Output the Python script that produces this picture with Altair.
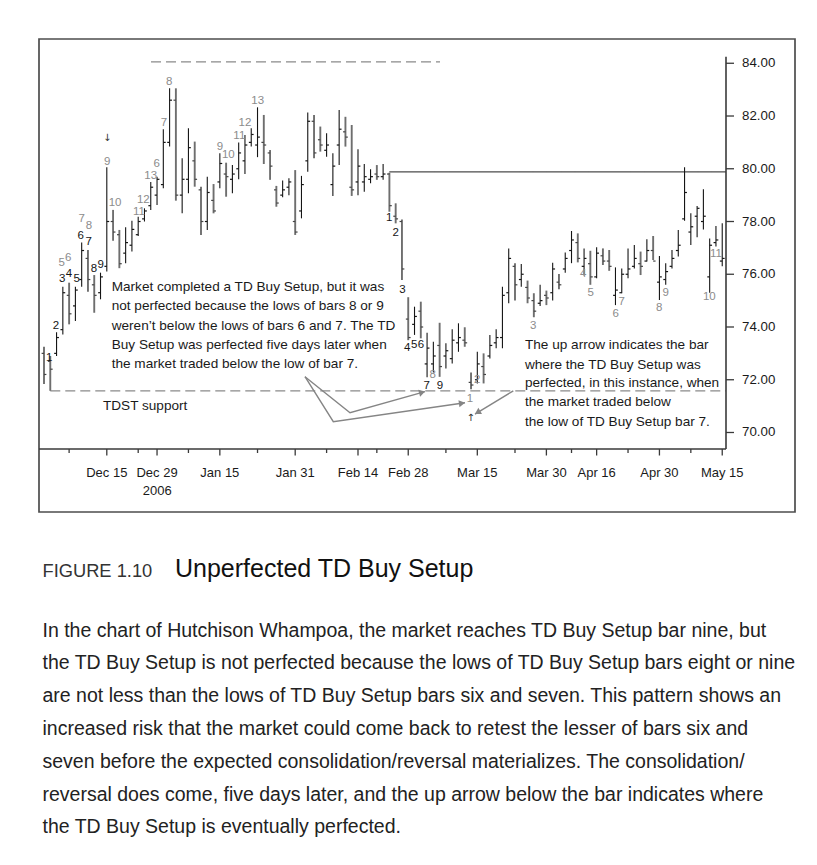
import altair as alt
import pandas as pd

# ---------------- data ----------------
highs = [73.25, 72.90, 73.80, 75.53, 75.68, 75.53, 77.20, 76.92, 75.97, 76.06,
         80.06, 78.44, 77.68, 77.78, 78.03, 78.18, 78.50, 79.50, 79.70, 81.50,
         83.05, 83.05, 80.40, 81.54, 81.03, 79.32, 79.70, 79.42, 80.59, 80.23,
         80.14, 81.00, 81.28, 81.54, 82.33, 82.04, 80.71, 79.35, 79.55, 79.64,
         79.95, 79.73, 82.13, 82.04, 81.60, 81.35, 80.59, 82.23, 81.97, 81.66,
         80.74, 80.18, 79.98, 80.14, 80.18, 79.85, 78.69, 78.08, 75.13, 74.77,
         74.96, 73.78, 73.44, 74.16, 73.38, 73.91, 74.14, 73.99, 72.27, 73.06,
         73.00, 73.70, 73.91, 75.53, 76.98, 76.42, 76.39, 75.76, 75.28, 75.60,
         75.38, 76.44, 76.01, 76.82, 77.64, 77.55, 76.98, 76.89, 77.02, 76.98,
         76.92, 76.26, 76.22, 76.98, 77.11, 76.86, 77.33, 77.45, 76.69, 76.42,
         76.92, 77.68, 80.06, 78.31, 78.59, 79.22, 77.36, 77.83, 77.93]
lows = [71.84, 71.58, 72.90, 73.72, 74.10, 74.23, 75.53, 75.34, 74.54, 75.05,
        76.10, 77.27, 76.23, 76.42, 76.86, 77.45, 78.00, 78.44, 78.63, 79.26,
        80.84, 78.79, 78.31, 79.07, 79.32, 77.49, 77.68, 78.31, 79.26, 78.94,
        79.07, 79.60, 79.80, 80.84, 80.44, 80.18, 79.58, 78.56, 78.92, 79.00,
        77.49, 78.12, 79.89, 80.40, 80.65, 80.46, 78.97, 80.14, 80.84, 78.97,
        79.00, 79.13, 79.45, 79.58, 79.58, 78.37, 77.93, 75.78, 73.50, 73.70,
        73.57, 72.09, 72.27, 72.11, 72.43, 72.62, 73.06, 73.25, 71.64, 71.86,
        71.86, 72.81, 73.19, 73.19, 74.90, 75.00, 75.53, 74.90, 74.37, 74.80,
        74.83, 75.00, 75.43, 76.06, 76.42, 76.45, 75.95, 75.60, 75.85, 76.35,
        76.13, 74.83, 75.28, 75.85, 76.22, 75.97, 76.48, 76.54, 75.02, 75.60,
        76.22, 76.67, 78.03, 77.11, 77.40, 77.70, 75.30, 77.05, 76.30]
opens = [73.0, 72.7, 73.0, 73.9, 75.2, 74.8, 75.8, 76.6, 75.6, 75.3,
         76.3, 78.0, 77.5, 76.8, 77.1, 77.5, 78.1, 78.6, 79.0, 79.4,
         81.0, 82.6, 79.0, 79.6, 80.3, 79.2, 78.0, 78.8, 79.5, 79.8,
         79.6, 80.0, 80.3, 81.0, 80.9, 81.0, 80.6, 79.2, 79.0, 79.3,
         78.0, 78.4, 80.3, 81.8, 81.1, 80.7, 79.4, 80.9, 81.4, 79.3,
         79.5, 79.5, 79.6, 79.8, 79.7, 79.8, 78.2, 78.0, 74.3, 74.1,
         74.6, 72.6, 72.6, 73.3, 72.9, 72.8, 73.4, 73.5, 71.9, 72.0,
         72.5, 72.9, 73.4, 73.6, 75.3, 76.3, 75.8, 75.5, 75.0, 74.9,
         75.2, 75.3, 75.7, 76.2, 76.9, 77.2, 76.3, 76.4, 75.9, 76.7,
         76.5, 75.2, 75.3, 76.0, 76.3, 76.4, 76.5, 76.9, 75.7, 75.8,
         76.3, 76.9, 78.1, 77.6, 78.2, 78.0, 75.9, 77.2, 76.5]
closes = [72.2, 72.4, 73.6, 75.3, 74.5, 75.4, 76.9, 75.8, 75.2, 75.9,
          78.0, 77.6, 76.4, 77.2, 77.7, 78.0, 78.4, 79.3, 79.6, 81.0,
          82.6, 79.0, 79.6, 80.8, 79.6, 78.0, 79.1, 78.4, 80.2, 79.7,
          79.8, 80.6, 80.9, 81.3, 81.2, 80.9, 80.1, 78.7, 79.2, 79.5,
          77.6, 79.4, 81.8, 80.6, 80.9, 80.9, 80.1, 81.5, 81.2, 79.2,
          80.1, 79.7, 79.7, 79.7, 79.8, 78.6, 78.1, 76.2, 73.6, 74.4,
          74.0, 73.2, 72.9, 72.5, 73.1, 73.5, 73.6, 73.4, 71.8, 72.6,
          72.2, 73.3, 73.6, 75.2, 76.6, 75.6, 76.0, 75.1, 74.6, 75.0,
          75.1, 76.2, 75.6, 76.6, 77.3, 76.6, 76.6, 75.9, 76.8, 76.5,
          76.3, 75.4, 76.0, 76.2, 76.6, 76.3, 76.9, 76.5, 75.9, 76.1,
          76.6, 77.1, 79.1, 77.8, 78.5, 78.2, 77.1, 77.3, 76.6]
bar_index = list(range(len(highs)))

# x-axis ticks (bar index) and labels
major_ticks = [10, 18, 28, 40, 50, 58, 69, 80, 88, 98, 108]
major_labels = ["Dec 15", "Dec 29", "Jan 15", "Jan 31", "Feb 14", "Feb 28",
                "Mar 15", "Mar 30", "Apr 16", "Apr 30", "May 15"]
minor_ticks = [4, 15, 23, 34, 45, 53, 64, 75, 84, 93, 103]
year_label_i = [18.04]
year_label_t = ["2006"]
price_ticks = [70, 72, 74, 76, 78, 80, 82, 84]
price_labels = ["70.00", "72.00", "74.00", "76.00", "78.00", "80.00", "82.00", "84.00"]

# TD count labels: bar position, price position, text, colour class
lab_i = [0.84, 1.91, 2.91, 3.98, 5.21, 5.84, 7.12, 7.96, 9.03,
         2.82, 3.87, 6.0, 7.17, 10.08, 11.31, 15.13, 15.81, 16.99, 17.95, 19.11, 19.95,
         28.03, 29.35, 31.1, 32.0, 34.03,
         54.98, 56.0, 57.06, 57.85, 58.96, 60.03, 60.94, 61.89, 63.06,
         67.83, 69.0, 77.91, 85.88, 87.05, 91.04, 91.99, 97.98, 99.0, 105.94, 107.0]
lab_p = [72.81, 74.04, 75.81, 76.0, 75.81, 77.46, 77.23, 76.19, 76.35,
         76.42, 76.61, 78.08, 77.83, 80.27, 78.69, 78.37, 78.82, 79.74, 80.17, 81.75, 83.30,
         80.84, 80.52, 81.25, 81.75, 82.58,
         78.12, 77.58, 75.40, 73.19, 73.32, 73.32, 71.76, 72.18, 71.76,
         71.26, 71.99, 74.04, 76.01, 75.28, 74.49, 74.96, 74.73, 75.28, 75.13, 76.77]
lab_t = ["1", "2", "3", "4", "5", "6", "7", "8", "9",
         "5", "6", "7", "8", "9", "10", "11", "12", "13", "6", "7", "8",
         "9", "10", "11", "12", "13",
         "1", "2", "3", "4", "5", "6", "7", "8", "9",
         "1", "2", "3", "4", "5", "6", "7", "8", "9", "10", "11"]
lab_c = ["k"] * 9 + ["g"] * 17 + ["k"] * 7 + ["g"] + ["k"] + ["g"] * 11

# small arrow markers
mark_i = [10.08, 67.95]
mark_p = [81.17, 70.55]
mark_t = ["↓", "↑"]

# horizontal reference lines
top_dash = {"i1": 17.04, "i2": 63.06, "p": 84.05}
resist = {"i1": 54.98, "i2": 108.6, "p": 79.88}
tdst = {"i1": 1.0, "i2": 108.6, "p": 71.58}

# annotation arrows (bar index, price)
arr_id = ["a", "a", "a", "b", "b", "b", "c", "c"]
arr_k = [0, 1, 2, 0, 1, 2, 0, 1]
arr_i = [41.56, 48.73, 60.67, 41.56, 46.07, 67.04, 74.73, 68.63]
arr_p = [72.115, 70.75, 71.547, 72.115, 70.41, 71.13, 71.58, 70.70]
head_i = [60.21, 66.56, 69.04]
head_p = [71.52, 71.11, 70.76]
head_ang = [344.4, 351.8, 148.7]

# annotation text
left_text = ["Market completed a TD Buy Setup, but it was",
             "not perfected because the lows of bars 8 or 9",
             "weren\u2019t below the lows of bars 6 and 7. The TD",
             "Buy Setup was perfected five days later when",
             "the market traded below the low of bar 7."]
left_i = 10.78
left_p = [75.38, 74.64, 73.90, 73.16, 72.43]
right_text = ["The up arrow indicates the bar",
              "where the TD Buy Setup was",
              "perfected, in this instance, when",
              "the market traded below",
              "the low of TD Buy Setup bar 7."]
right_i = 76.59
right_p = [73.15, 72.41, 71.72, 70.99, 70.23]
support_text = ["TDST support"]
support_i = [9.39]
support_p = [70.85]

fig_no = "FIGURE 1.10"
fig_title = "Unperfected TD Buy Setup"
body = ("In the chart of Hutchison Whampoa, the market reaches TD Buy Setup bar nine, but\n"
        "the TD Buy Setup is not perfected because the lows of TD Buy Setup bars eight or nine\n"
        "are not less than the lows of TD Buy Setup bars six and seven. This pattern shows an\n"
        "increased risk that the market could come back to retest the lesser of bars six and\n"
        "seven before the expected consolidation/reversal materializes. The consolidation/\n"
        "reversal does come, five days later, and the up arrow below the bar indicates where\n"
        "the TD Buy Setup is eventually perfected.")

# ---------------- styling ----------------
FONT = "Liberation Sans, Arial, sans-serif"
BLACK = "#151515"
GRAYBAR = "#6e6e6e"
GRAYTXT = "#8c8c8c"
AX = "#3a3a3a"
W, H = 687, 410

XS = alt.Scale(domain=[-0.796, 108.6], nice=False, zero=False)
YS = alt.Scale(domain=[69.374, 84.92], nice=False, zero=False)


def xq(f):
    return alt.X(f, scale=XS, axis=None, title=None)


def yq(f):
    return alt.Y(f, scale=YS, axis=None, title=None)


bars = pd.DataFrame({"i": bar_index, "h": highs, "l": lows, "o": opens, "c": closes})
down = "datum.c < datum.o"

bar_rules = alt.Chart(bars).mark_rule().encode(
    x=xq("i:Q"), y=yq("l:Q"), y2="h:Q",
    color=alt.condition(down, alt.value(GRAYBAR), alt.value(BLACK)),
    strokeWidth=alt.condition(down, alt.value(1.9), alt.value(1.1)),
)
open_ticks = alt.Chart(bars).transform_calculate(xl="datum.i - 0.38").mark_rule(strokeWidth=1.2).encode(
    x=xq("xl:Q"), x2="i:Q", y=yq("o:Q"),
    color=alt.condition(down, alt.value("#444"), alt.value(BLACK)),
)
close_ticks = alt.Chart(bars).transform_calculate(xr="datum.i + 0.38").mark_rule(strokeWidth=1.2).encode(
    x=xq("i:Q"), x2="xr:Q", y=yq("c:Q"),
    color=alt.condition(down, alt.value("#444"), alt.value(BLACK)),
)

one = pd.DataFrame({"z": [0]})

# ---- axes drawn through the scales ----
xaxis_line = alt.Chart(one).mark_rule(color=AX, strokeWidth=1.6).encode(
    x=alt.value(0), x2=alt.value(W), y=alt.value(H))
yaxis_line = alt.Chart(pd.DataFrame({"p": [84.25]})).mark_rule(color=AX, strokeWidth=1.6).encode(
    x=alt.value(W), y=yq("p:Q"), y2=alt.value(H))
xmajor = alt.Chart(pd.DataFrame({"i": major_ticks, "t": major_labels}))
xmajor_ticks = xmajor.mark_rule(color=AX, strokeWidth=1.3).encode(
    x=xq("i:Q"), y=alt.value(H), y2=alt.value(H + 6.5))
xmajor_labels = xmajor.mark_text(font=FONT, fontSize=13, color="#1a1a1a", baseline="alphabetic",
                                 align="center").encode(
    x=xq("i:Q"), y=alt.value(437.5), text="t:N")
xminor_ticks = alt.Chart(pd.DataFrame({"i": minor_ticks})).mark_rule(color=AX, strokeWidth=1.3).encode(
    x=xq("i:Q"), y=alt.value(H), y2=alt.value(H + 4))
year = alt.Chart(pd.DataFrame({"i": year_label_i, "t": year_label_t})).mark_text(
    font=FONT, fontSize=13, color="#1a1a1a", baseline="alphabetic", align="center").encode(
    x=xq("i:Q"), y=alt.value(455.5), text="t:N")
ydf = alt.Chart(pd.DataFrame({"p": price_ticks, "t": price_labels}))
y_ticks = ydf.mark_rule(color=AX, strokeWidth=1.3).encode(
    y=yq("p:Q"), x=alt.value(W), x2=alt.value(W + 8))
y_labels = ydf.mark_text(font=FONT, fontSize=13.3, color="#1a1a1a", baseline="middle", align="left").encode(
    y=yq("p:Q"), x=alt.value(W + 16), text="t:N")


def hline(d, dash, color, width):
    return alt.Chart(pd.DataFrame([d])).mark_rule(color=color, strokeWidth=width, strokeDash=dash).encode(
        x=xq("i1:Q"), x2="i2:Q", y=yq("p:Q"))


top_line = hline(top_dash, [10, 5], "#8a8a8a", 1.3)
res_line = hline(resist, [1, 0], "#4a4a4a", 1.4)
tdst_line = hline(tdst, [10, 5], "#8a8a8a", 1.3)

labels = alt.Chart(pd.DataFrame({"i": lab_i, "p": lab_p, "t": lab_t, "c": lab_c})).mark_text(
    font=FONT, fontSize=11.5, baseline="middle", align="center").encode(
    x=xq("i:Q"), y=yq("p:Q"), text="t:N",
    color=alt.condition("datum.c == 'g'", alt.value(GRAYTXT), alt.value(BLACK)))

markers = alt.Chart(pd.DataFrame({"i": mark_i, "p": mark_p, "t": mark_t})).mark_text(
    font="DejaVu Sans", fontSize=10, color="#333", baseline="middle", align="center").encode(
    x=xq("i:Q"), y=yq("p:Q"), text="t:N")

arrows = alt.Chart(pd.DataFrame({"a": arr_id, "k": arr_k, "i": arr_i, "p": arr_p})).mark_line(
    color="#858585", strokeWidth=1.4).encode(
    x=xq("i:Q"), y=yq("p:Q"), detail="a:N", order="k:Q")

heads = alt.Chart(pd.DataFrame({"i": head_i, "p": head_p, "ang": head_ang})).mark_point(
    shape="triangle-right", filled=True, color="#858585", size=50, opacity=1).encode(
    x=xq("i:Q"), y=yq("p:Q"), angle=alt.Angle("ang:Q", scale=None))


def text_block(lines, i, ps):
    ii = i if isinstance(i, list) else [i] * len(lines)
    df = pd.DataFrame({"t": lines, "i": ii, "p": ps})
    return alt.Chart(df).mark_text(font=FONT, fontSize=13.6, color="#1a1a1a", align="left",
                                   baseline="alphabetic").encode(
        x=xq("i:Q"), y=yq("p:Q"), text="t:N")


left_block = text_block(left_text, left_i, left_p)
right_block = text_block(right_text, right_i, right_p)
support = text_block(support_text, support_i, support_p)

frame = alt.Chart(one).mark_rect(fillOpacity=0, stroke="#4d4d4d", strokeWidth=1.7).encode(
    x=alt.value(0), x2=alt.value(756), y=alt.value(0), y2=alt.value(473))

cap_no = alt.Chart(one).mark_text(text=fig_no, font=FONT, fontSize=18.3, color="#333",
                                  align="left", baseline="alphabetic").encode(
    x=alt.value(3.5), y=alt.value(537.7))
cap_title = alt.Chart(one).mark_text(text=fig_title, font=FONT, fontSize=25, color="#111",
                                     align="left", baseline="alphabetic").encode(
    x=alt.value(136), y=alt.value(537.7))
cap_body = alt.Chart(one).mark_text(text=body, font=FONT, fontSize=19.5, color="#222",
                                    align="left", baseline="alphabetic", lineBreak="\n",
                                    lineHeight=32.8).encode(
    x=alt.value(3.5), y=alt.value(597.7))

chart = alt.layer(
    frame, top_line, res_line, tdst_line, arrows, heads,
    bar_rules, open_ticks, close_ticks,
    xaxis_line, yaxis_line, xmajor_ticks, xmajor_labels, xminor_ticks, year, y_ticks, y_labels,
    labels, markers, left_block, right_block, support,
    cap_no, cap_title, cap_body,
).properties(
    width=W, height=H,
    autosize=alt.AutoSizeParams(type="none"),
    padding={"left": 31, "top": 31, "right": 82, "bottom": 404},
    background="white",
).configure_view(strokeWidth=0)

chart.save("out.html", embed_options={"renderer": "svg", "actions": False})
